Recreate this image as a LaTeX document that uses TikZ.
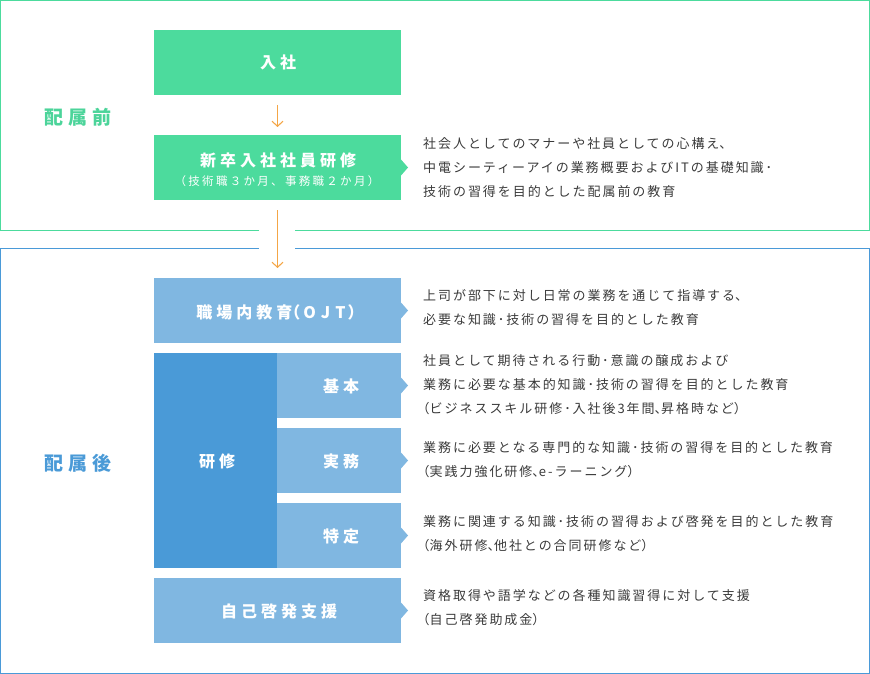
\documentclass[tikz,border=0pt]{standalone}
\usepackage{fontspec}
\newfontfamily\jp{Noto Sans CJK JP}
\usetikzlibrary{arrows.meta}
\definecolor{grn}{HTML}{4CDB9D}
\definecolor{gtext}{HTML}{4CD49A}
\definecolor{lblue}{HTML}{80B7E1}
\definecolor{dblue}{HTML}{4A9AD7}
\definecolor{bframe}{HTML}{4A9AD8}
\definecolor{orng}{HTML}{F4A646}
\definecolor{txt}{HTML}{3A3A3A}
\newcommand\hw[1]{{\addfontfeatures{RawFeature=+halt}#1}}
\begin{document}
\begin{tikzpicture}[x=1pt,y=-1pt,
  boxbase/.style={minimum height=65pt,inner sep=0pt,outer sep=0pt},
  gbox/.style={boxbase,fill=grn,minimum width=247pt},
  wbox/.style={boxbase,fill=lblue,minimum width=247pt},
  sbox/.style={boxbase,fill=lblue,minimum width=124pt},
  boxlabel/.style={text=white,inner sep=0pt,font=\jp\bfseries\fontsize{16}{16}\selectfont\addfontfeatures{LetterSpace=25}},
  sublabel/.style={text=white,inner sep=0pt,font=\jp\fontsize{11.5}{11.5}\selectfont\addfontfeatures{LetterSpace=20}},
  desc/.style={anchor=west,align=left,inner sep=0pt,text=txt,font=\jp\fontsize{13}{24}\selectfont\addfontfeatures{LetterSpace=15}},
  phase/.style={inner sep=0pt,font=\jp\bfseries\fontsize{19}{19}\selectfont\addfontfeatures{LetterSpace=24}},
  flow/.style={color=orng,line width=1.1pt,-{Straight Barb[length=5pt,width=11pt]}}
]
\useasboundingbox (0,0) rectangle (870,674);
% frames
\draw[grn,line width=1pt] (259,230) -- (0.5,230) -- (0.5,0.5) -- (869.5,0.5) -- (869.5,230) -- (295,230);
\draw[bframe,line width=1pt] (259,248) -- (0.5,248) -- (0.5,673.5) -- (869.5,673.5) -- (869.5,248) -- (295,248);
% phase labels
\node[phase,text=gtext] (pre) at (78,117) {配属前};
\node[phase,text=dblue] (post) at (78,463) {配属後};
% boxes
\node[gbox] (nyusha) at (277.5,62.5) {};
\node[boxlabel] (nyushaT) at (278,62.5) {入社};
\node[gbox] (shinsotsu) at (277.5,167.5) {};
\node[boxlabel] (shinsotsuT) at (278,160) {新卒入社社員研修};
\node[sublabel] (shinsotsuS) at (277,181) {（技術職３か月、事務職２か月）};
\node[wbox] (ojt) at (277.5,310.5) {};
\node[boxlabel] (ojtT) at (276,312) {職場内教育\hw{（}\kern3ptO\kern5ptJ\kern5ptT\kern2pt\hw{）}};
\node[boxbase,fill=dblue,minimum width=123pt,minimum height=215pt] (kenshu) at (215.5,460.5) {};
\node[boxlabel] (kenshuT) at (217,461) {研修};
\node[sbox] (kihon) at (339,385.5) {};
\node[boxlabel] (kihonT) at (341,386) {基本};
\node[sbox] (jitsumu) at (339,460.5) {};
\node[boxlabel] (jitsumuT) at (341,461) {実務};
\node[sbox] (tokutei) at (339,535.5) {};
\node[boxlabel] (tokuteiT) at (341,536) {特定};
\node[wbox] (jiko) at (277.5,610.5) {};
\node[boxlabel] (jikoT) at (279,611) {自己啓発支援};
% pointers
\foreach \b/\c in {shinsotsu/grn,ojt/lblue,kihon/lblue,jitsumu/lblue,tokutei/lblue,jiko/lblue}{
  \fill[\c] ([yshift=-8pt]\b.east) -- ([xshift=7pt]\b.east) -- ([yshift=8pt]\b.east) -- cycle;
}
% flow arrows
\draw[flow] ([yshift=-10pt]nyusha.south) -- ([yshift=8pt]shinsotsu.north);
\draw[flow] ([yshift=-10pt]shinsotsu.south) -- ([yshift=10pt]ojt.north);
% descriptions
\node[desc] (d1) at (423,168) {社会人としてのマナーや社員としての心構え\hw{、}\\中電シーティーアイの業務概要およびITの基礎知識･\\技術の習得を目的とした配属前の教育};
\node[desc] (d2) at (423,308) {上司が部下に対し日常の業務を通じて指導する\hw{、}\\必要な知識･技術の習得を目的とした教育};
\node[desc] (d3) at (423,385) {社員として期待される行動･意識の醸成および\\業務に必要な基本的知識･技術の習得を目的とした教育\\\hw{（}ビジネススキル研修･入社後3年間\hw{、}昇格時など\hw{）}};
\node[desc] (d4) at (423,460) {業務に必要となる専門的な知識･技術の習得を目的とした教育\\\hw{（}実践力強化研修\hw{、}e-ラーニング\hw{）}};
\node[desc] (d5) at (423,534) {業務に関連する知識･技術の習得および啓発を目的とした教育\\\hw{（}海外研修\hw{、}他社との合同研修など\hw{）}};
\node[desc] (d6) at (423,608) {資格取得や語学などの各種知識習得に対して支援\\\hw{（}自己啓発助成金\hw{）}};
\end{tikzpicture}
\end{document}
